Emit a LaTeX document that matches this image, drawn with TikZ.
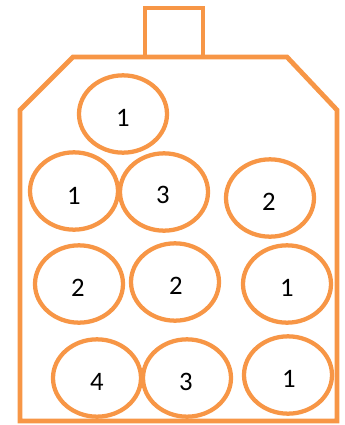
\documentclass[tikz,border=0pt]{standalone}
\usepackage{fontspec}
\setmainfont{Carlito}
\usetikzlibrary{shapes.geometric}
\definecolor{orng}{HTML}{F79646}
\tikzset{
  pin/.style={draw=orng, line width=3.2pt, shape=ellipse, inner sep=0pt, minimum width=66pt, minimum height=58pt},
  num/.style={inner sep=0pt, font=\fontsize{20}{24}\selectfont},
  body/.style={draw=orng, line width=3.6pt, line join=miter}
}
\begin{document}
\begin{tikzpicture}[x=0.75pt, y=-0.75pt]
\useasboundingbox (0,0) rectangle (345,425);
\draw[body] (145,57) -- (145,8) -- (203,8) -- (203,57);
\draw[body] (20,421) -- (20,110) -- (73,57) -- (287,57) -- (337,110) -- (337,421) -- cycle;
% row 1
\node[pin] (p1) at (123,114) {};
\node[num] (t1) at (123,118) {1};
% row 2
\node[pin] (p2) at (74,191) {};
\node[num] (t2) at (74,196) {1};
\node[pin] (p3) at (164,192) {};
\node[num] (t3) at (163,195) {3};
\node[pin] (p4) at (270,198) {};
\node[num] (t4) at (269,202) {2};
% row 3
\node[pin] (p5) at (79,284) {};
\node[num] (t5) at (78,288) {2};
\node[pin] (p6) at (175,282) {};
\node[num] (t6) at (176,286) {2};
\node[pin] (p7) at (287,284) {};
\node[num] (t7) at (287,288) {1};
% row 4
\node[pin] (p8) at (97,378) {};
\node[num] (t8) at (97,382) {4};
\node[pin] (p9) at (187,378) {};
\node[num] (t9) at (186,382) {3};
\node[pin] (p10) at (288,375) {};
\node[num] (t10) at (289,379) {1};
\end{tikzpicture}
\end{document}
